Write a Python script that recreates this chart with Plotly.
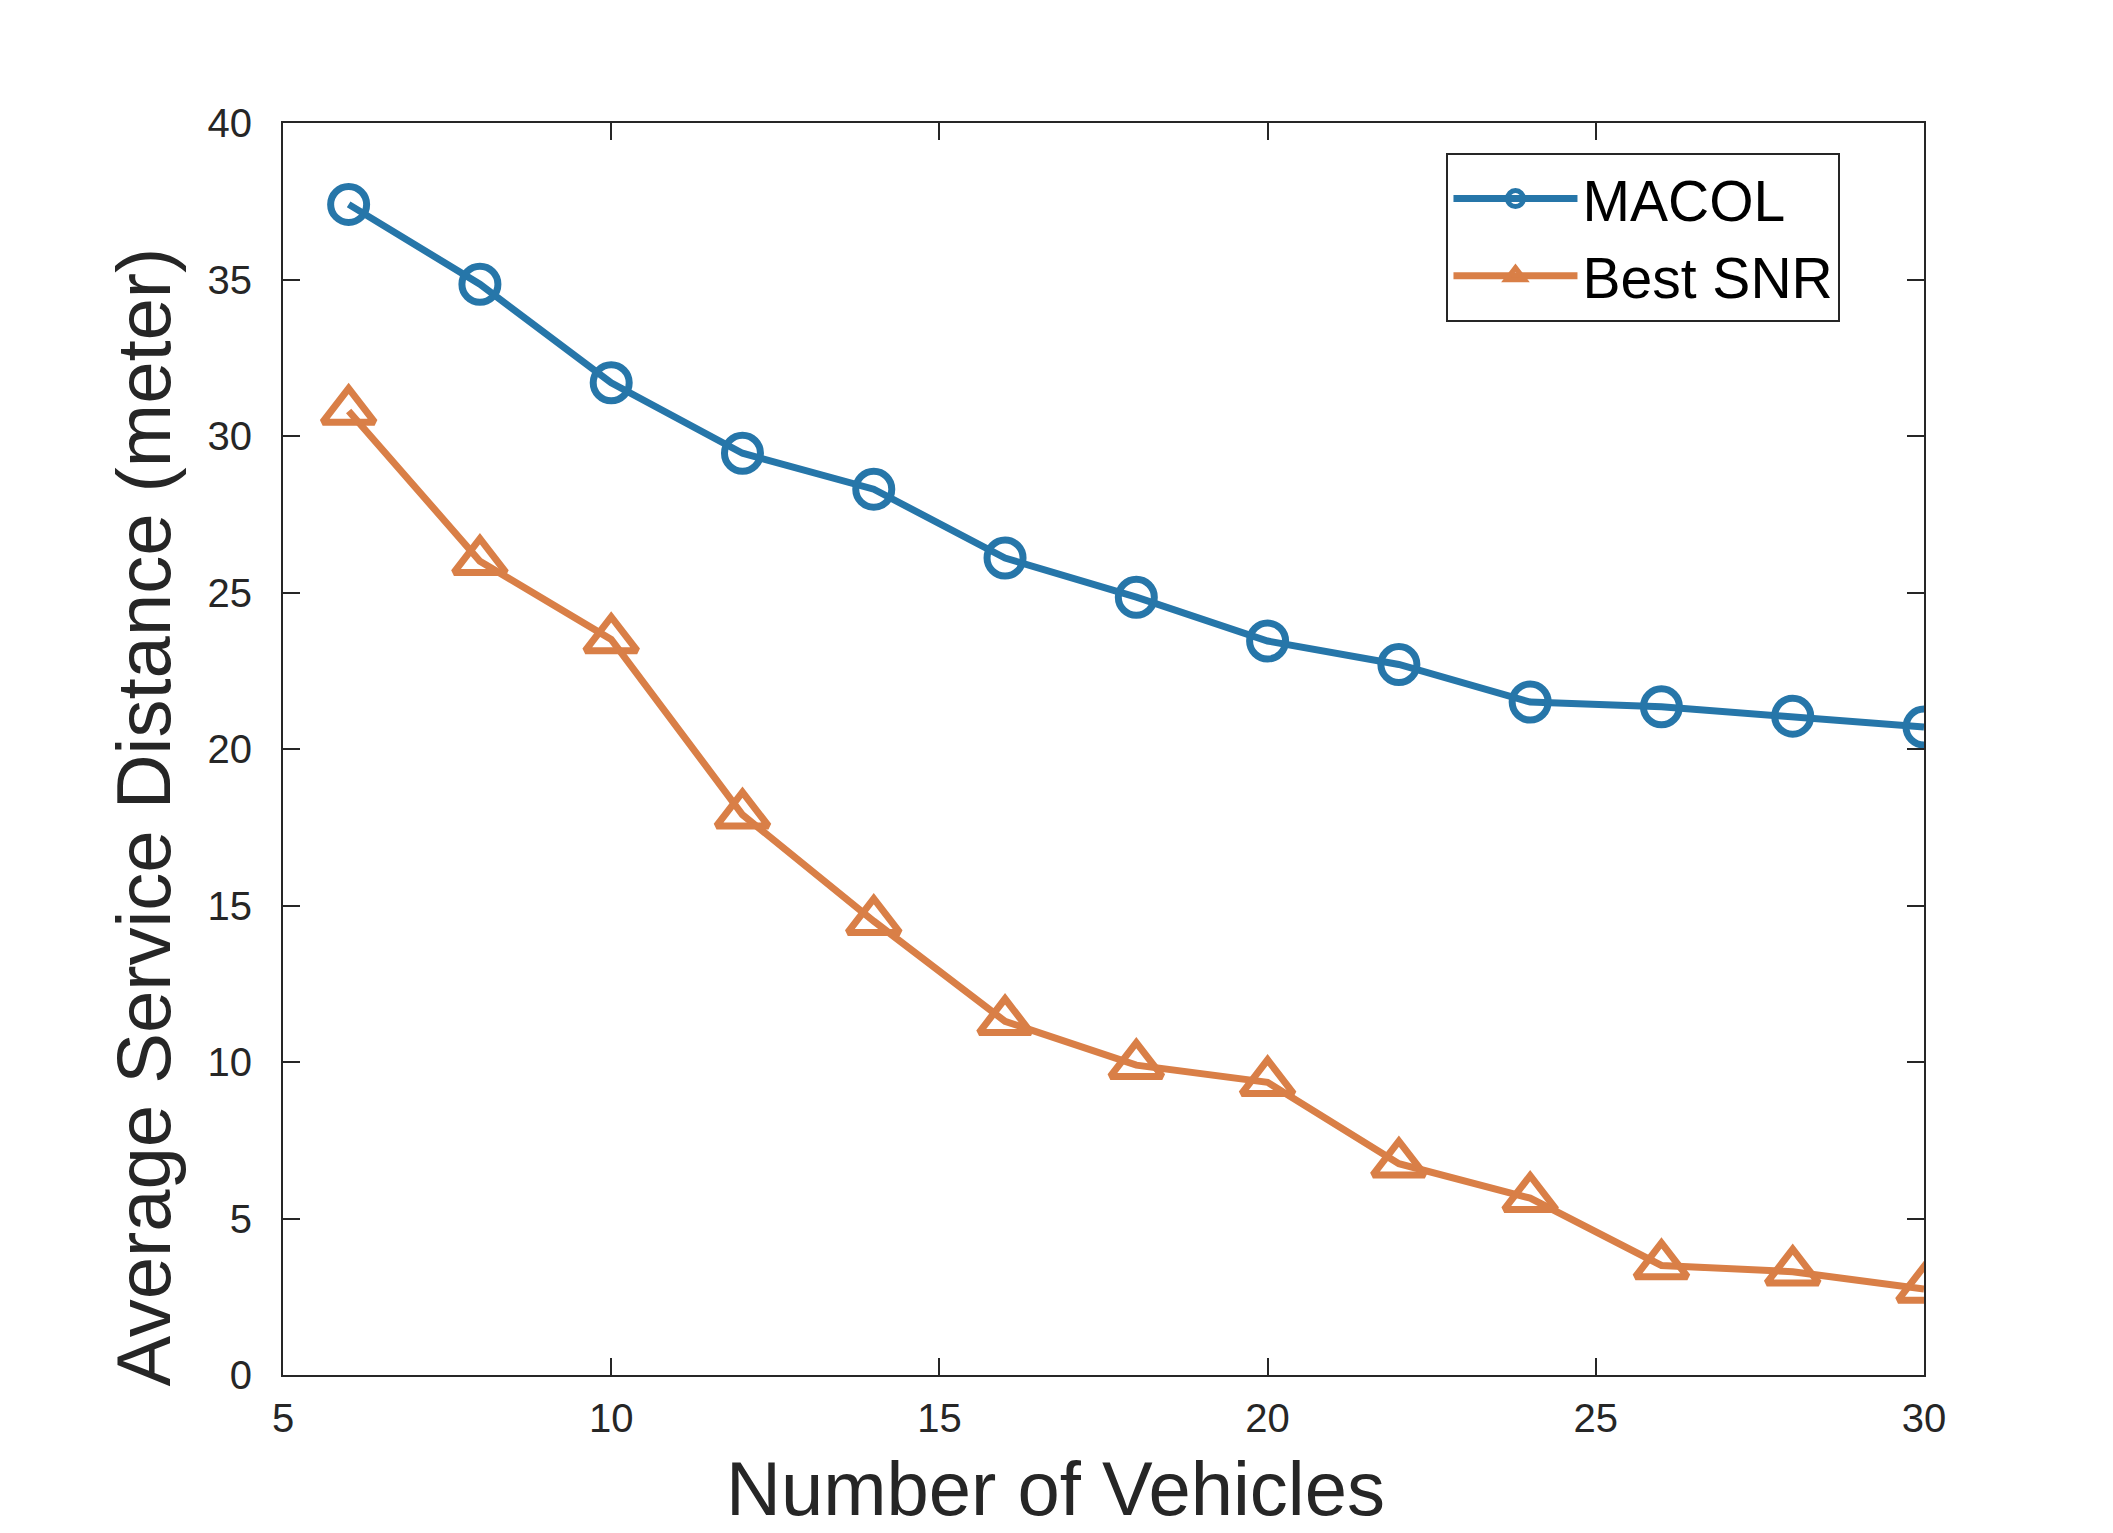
import plotly.graph_objects as go

# Data
vehicles = [6, 8, 10, 12, 14, 16, 18, 20, 22, 24, 26, 28, 30]
macol = [37.4, 34.85, 31.7, 29.45, 28.3, 26.1, 24.85, 23.45, 22.7, 21.5, 21.35, 21.05, 20.7]
best_snr = [30.8, 26.0, 23.5, 17.9, 14.5, 11.3, 9.9, 9.35, 6.75, 5.65, 3.5, 3.3, 2.75]

x_ticks = [5, 10, 15, 20, 25, 30]
y_ticks = [0, 5, 10, 15, 20, 25, 30, 35, 40]

x_label = 'Number of Vehicles'
y_label = 'Average Service Distance (meter)'

blue = '#2676a9'
orange = '#d97f47'
axis_col = '#262626'
font_family = 'Liberation Sans, Arial, sans-serif'

fig = go.Figure()

fig.add_trace(go.Scatter(
    name='MACOL',
    x=vehicles,
    y=macol,
    mode='lines+markers',
    line=dict(color=blue, width=7),
    marker=dict(symbol='circle-open', size=36, color=blue, line=dict(width=7, color=blue)),
))

fig.add_trace(go.Scatter(
    name='Best SNR',
    x=vehicles,
    y=best_snr,
    mode='lines+markers',
    line=dict(color=orange, width=7),
    marker=dict(symbol='triangle-up-open', size=45, color=orange, line=dict(width=7, color=orange)),
))

axis_common = dict(
    showline=True,
    linecolor=axis_col,
    linewidth=2,
    mirror='allticks',
    ticks='inside',
    ticklen=17,
    tickwidth=2,
    tickcolor=axis_col,
    showgrid=False,
    zeroline=False,
    tickfont=dict(family=font_family, size=40, color=axis_col),
)

fig.update_layout(
    width=2113,
    height=1533,
    plot_bgcolor='white',
    paper_bgcolor='white',
    margin=dict(l=275, r=197, t=115, b=166),
    font=dict(family=font_family, color=axis_col),
    xaxis=dict(range=[5, 30], tickvals=x_ticks, ticklabelstandoff=7, **axis_common),
    yaxis=dict(range=[0, 40], tickvals=y_ticks, ticklabelstandoff=21, **axis_common),
    legend=dict(
        x=0.709,
        y=0.976,
        xanchor='left',
        yanchor='top',
        bgcolor='white',
        bordercolor=axis_col,
        borderwidth=2,
        font=dict(family=font_family, size=57, color='black'),
        itemwidth=124,
    ),
    showlegend=True,
)

# axis titles (MATLAB places them slightly off-centre)
fig.add_annotation(
    text=x_label, xref='paper', yref='paper', x=0.471, y=-0.091,
    xanchor='center', yanchor='middle', showarrow=False,
    font=dict(family=font_family, size=76, color=axis_col),
)
fig.add_annotation(
    text=y_label, xref='paper', yref='paper', x=-0.085, y=0.4456,
    xanchor='center', yanchor='middle', textangle=-90, showarrow=False,
    font=dict(family=font_family, size=76, color=axis_col),
)

fig.write_html('out.html')
